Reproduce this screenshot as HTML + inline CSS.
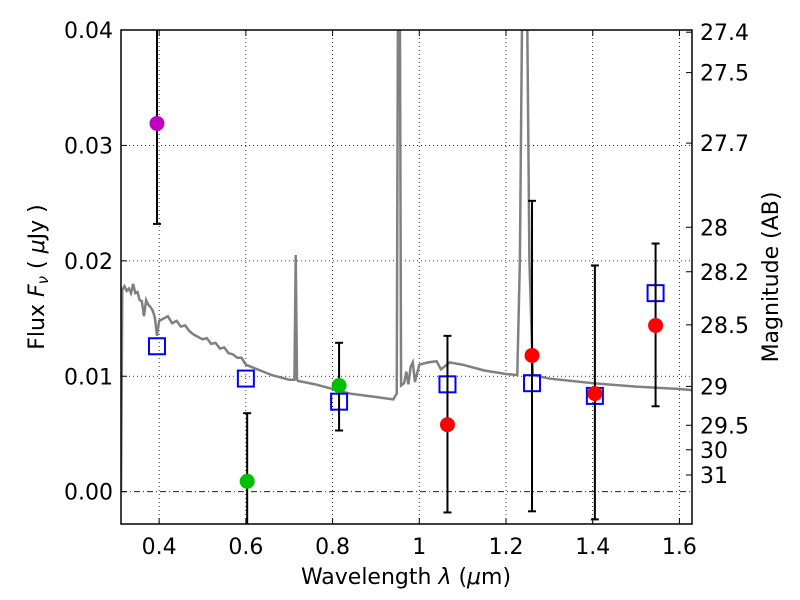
<!DOCTYPE html>
<html><head><meta charset="utf-8"><style>
body{margin:0;background:#fff}
svg{display:block;font-family:"DejaVu Sans","Liberation Sans",sans-serif}
</style></head><body>
<svg id="chart" width="800" height="600">
<g id="grid"></g>
<g id="spec"></g>
<g id="marks"></g>
<rect x="121" y="30" width="571" height="494" fill="none" stroke="#000" stroke-width="1.5"/>
<g id="axes"></g>
<text x="406" y="584" font-size="22" text-anchor="middle">Wavelength  <tspan font-style="italic">λ</tspan> (<tspan font-style="italic">μ</tspan>m)</text>
<text transform="translate(44,277) rotate(-90)" font-size="22" text-anchor="middle">Flux  <tspan font-style="italic">F<tspan font-size="15" dy="4">ν</tspan></tspan><tspan dy="-4">  (  </tspan><tspan font-style="italic">μ</tspan>Jy )</text>
<text transform="translate(778,277) rotate(-90)" font-size="22" text-anchor="middle">Magnitude (AB)</text>
</svg>
<script>
const xTicks=[0.4,0.6,0.8,1.0,1.2,1.4,1.6];
const xTickLabels=["0.4","0.6","0.8","1","1.2","1.4","1.6"];
const yTicks=[0,0.01,0.02,0.03,0.04];
const yTickLabels=["0.00","0.01","0.02","0.03","0.04"];
const magTicks=[27.4,27.5,27.7,28,28.2,28.5,29,29.5,30,31];
const specX=[0.312,0.315,0.32,0.325,0.33,0.335,0.34,0.345,0.35,0.355,0.36,0.365,0.37,0.375,0.38,0.385,0.39,0.395,0.40,0.41,0.42,0.43,0.44,0.45,0.46,0.47,0.48,0.49,0.50,0.51,0.52,0.53,0.54,0.55,0.56,0.57,0.58,0.59,0.60,0.62,0.64,0.66,0.70,0.712,0.715,0.718,0.72,0.76,0.80,0.84,0.88,0.90,0.94,0.948,0.951,0.955,0.958,0.965,0.97,0.975,0.98,0.985,0.99,1.0,1.02,1.04,1.05,1.07,1.1,1.15,1.2,1.226,1.232,1.238,1.248,1.254,1.262,1.3,1.4,1.5,1.6,1.63];
const specY=[0.0,0.0175,0.0178,0.0174,0.0176,0.0172,0.018,0.0172,0.0173,0.0166,0.0165,0.0152,0.0166,0.0162,0.016,0.0157,0.0151,0.0135,0.0148,0.015,0.0152,0.0146,0.0148,0.0143,0.0144,0.0139,0.0136,0.0134,0.0132,0.0133,0.0128,0.0129,0.0124,0.0125,0.012,0.0119,0.0116,0.0116,0.011,0.0107,0.0104,0.0101,0.0097,0.0097,0.0205,0.0097,0.0096,0.0093,0.0089,0.0085,0.0083,0.0082,0.008,0.0085,0.045,0.045,0.0092,0.0094,0.0104,0.0093,0.0108,0.0112,0.0095,0.011,0.0112,0.0113,0.0106,0.0112,0.011,0.0105,0.0102,0.0101,0.02,0.045,0.045,0.02,0.0101,0.0098,0.0094,0.0091,0.0089,0.0088];
const ptX=[0.395,0.603,0.815,1.065,1.26,1.405,1.545];
const ptY=[0.0319,0.0009,0.0092,0.0058,0.0118,0.0085,0.0144];
const ptLo=[0.0232,-0.005,0.0053,-0.0018,-0.0017,-0.0024,0.0074];
const ptHi=[0.045,0.0068,0.0129,0.0135,0.0252,0.0196,0.0215];
const ptColor=["#bf00bf","#00bf00","#00bf00","#ff0000","#ff0000","#ff0000","#ff0000"];
const modelX=[0.395,0.6,0.815,1.065,1.26,1.405,1.545];
const modelY=[0.0126,0.0098,0.0078,0.0093,0.0094,0.0083,0.0172];

const X0=121,X1=692,Y0=30,Y1=524,xmin=0.312,xmax=1.629,ymin=-0.0028,ymax=0.04;
const sx=v=>X0+(v-xmin)/(xmax-xmin)*(X1-X0);
const sy=v=>Y1-(v-ymin)/(ymax-ymin)*(Y1-Y0);
const NS="http://www.w3.org/2000/svg";
function mk(parent,tag,attrs){const e=document.createElementNS(NS,tag);for(const k in attrs)e.setAttribute(k,attrs[k]);document.getElementById(parent).appendChild(e);return e;}
xTicks.forEach((t,i)=>{
 const x=sx(t);
 const g=mk('grid','line',{x1:x,x2:x,y1:Y0,y2:Y1,stroke:'#000','stroke-width':0.8,'stroke-dasharray':'1,3'});
 
 
 mk('axes','line',{x1:x,x2:x,y1:Y1,y2:Y1-6,stroke:'#000'});
 mk('axes','line',{x1:x,x2:x,y1:Y0,y2:Y0+6,stroke:'#000'});
 const l=mk('axes','text',{x:x,y:Y1+30,'font-size':22,'text-anchor':'middle'});
 l.textContent=xTickLabels[i];
 
 
});
yTicks.forEach((t,i)=>{
 const y=sy(t);
 const g=mk('grid','line',{x1:X0,x2:X1,y1:y,y2:y,stroke:'#000','stroke-width':0.8,'stroke-dasharray':t===0?'6,3,1,3':'1,3'});
 
 
 mk('axes','line',{x1:X0,x2:X0+6,y1:y,y2:y,stroke:'#000'});
 const l=mk('axes','text',{x:X0-8,y:y+8,'font-size':22,'text-anchor':'end'});
 l.textContent=yTickLabels[i];
 
 
});
magTicks.forEach(m=>{
 const f=Math.pow(10,(23.9-m)/2.5);
 const y=sy(f);
 mk('axes','line',{x1:X1,x2:X1-6,y1:y,y2:y,stroke:'#000'});
 const l=mk('axes','text',{x:X1+8,y:y+8,'font-size':22});
 l.textContent=String(m);
 
 
});
const clip=mk('spec','clipPath',{id:'pc'});
const cr=document.createElementNS(NS,'rect');cr.setAttribute('x',X0);cr.setAttribute('y',Y0);cr.setAttribute('width',X1-X0);cr.setAttribute('height',Y1-Y0);clip.appendChild(cr);
const sp=mk('spec','polyline',{points:specX.map((x,i)=>sx(x)+','+sy(specY[i])).join(' '),fill:'none',stroke:'#808080','stroke-width':2.5,'clip-path':'url(#pc)'});


modelX.forEach((x,i)=>{
 const r=mk('marks','rect',{x:sx(x)-8,y:sy(modelY[i])-8,width:16,height:16,fill:'none',stroke:'#0000ff','stroke-width':2});
 
 
});
ptX.forEach((x,i)=>{
 const cx=sx(x),hi=sy(ptHi[i]);
 const e=mk('marks','line',{x1:cx,x2:cx,y1:Math.min(sy(ptLo[i]),Y1),y2:Math.max(hi,Y0),stroke:'#000','stroke-width':2});
 
 
 if(sy(ptLo[i])<Y1) mk('marks','line',{x1:cx-4,x2:cx+4,y1:sy(ptLo[i]),y2:sy(ptLo[i]),stroke:'#000','stroke-width':2});
 if(hi>Y0) mk('marks','line',{x1:cx-4,x2:cx+4,y1:hi,y2:hi,stroke:'#000','stroke-width':2});
 const c=mk('marks','circle',{cx:cx,cy:sy(ptY[i]),r:7.5,fill:ptColor[i]});
 
 
});
</script>
</body></html>
